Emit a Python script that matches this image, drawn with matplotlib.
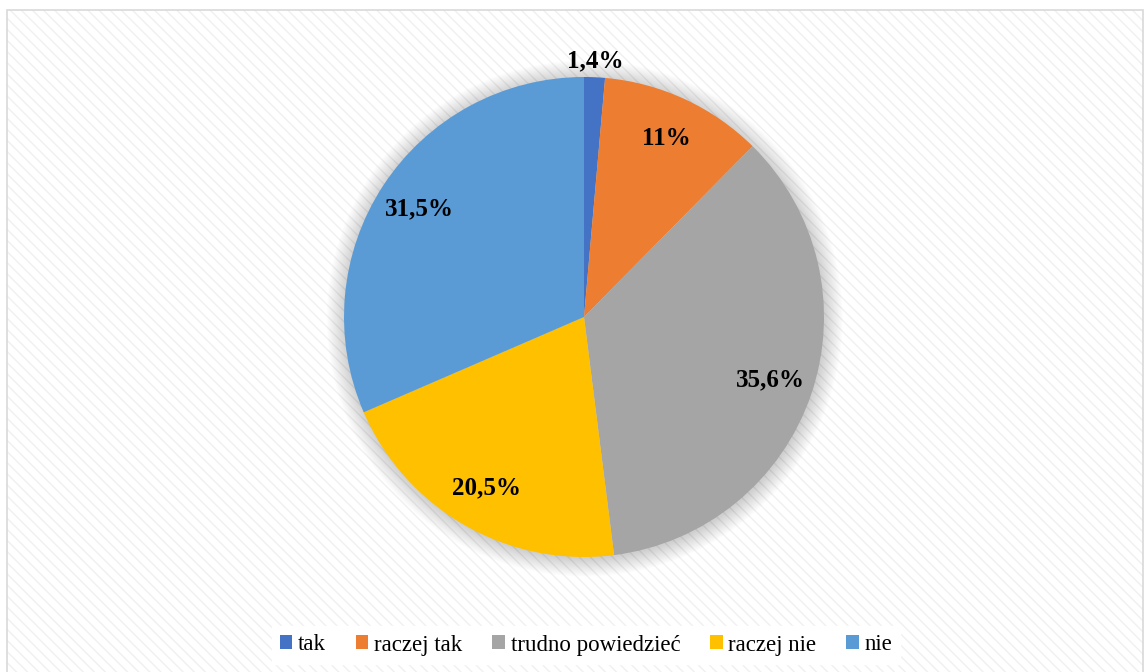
"""
Pie chart: tak / raczej tak / trudno powiedziec / raczej nie / nie
"""
import numpy as np
import matplotlib
matplotlib.use("Agg")
import matplotlib.pyplot as plt
from matplotlib.patches import Circle, Rectangle

# data
categories = ["tak", "raczej tak", "trudno powiedzieć", "raczej nie", "nie"]
shares = [1.4, 11, 35.6, 20.5, 31.5]
pct_labels = ["1,4%", "11%", "35,6%", "20,5%", "31,5%"]
colors = ["#4472C4", "#ED7D31", "#A5A5A5", "#FFC000", "#5B9BD5"]

plt.rcParams['font.family'] = ['Liberation Serif', 'DejaVu Serif']

W, H = 1145, 672
fig = plt.figure(figsize=(W / 100, H / 100), dpi=100)
fig.patch.set_facecolor("white")

# hatched background with a light frame
bg = Rectangle((7 / W, -0.01), (1143 - 7) / W, 1 - 10 / H + 0.01,
               transform=fig.transFigure, facecolor="white",
               edgecolor="#f0f0f0", hatch="\\\\\\", linewidth=0, zorder=-3)
fig.patches.append(bg)
frame = Rectangle((7 / W, -0.01), (1143 - 7) / W, 1 - 10 / H + 0.01,
                  transform=fig.transFigure, facecolor="none",
                  edgecolor="#d9d9d9", linewidth=1.2, zorder=-2)
fig.patches.append(frame)

cx, cy, r = 584, 317, 240
ax = fig.add_axes([(cx - r) / W, (H - cy - r) / H, 2 * r / W, 2 * r / H])
ax.set_xlim(-1, 1)
ax.set_ylim(-1, 1)
ax.axis("off")

# soft shadow around the pie
for k in range(24):
    ax.add_patch(Circle((0.003, -0.006), 1.0 + 0.0033 * k, facecolor="black",
                        alpha=0.009, edgecolor="none", clip_on=False, zorder=0))

wedges, _ = ax.pie(shares, colors=colors, startangle=90, counterclock=False,
                   radius=1.0, wedgeprops=dict(linewidth=0), frame=False)
for w in wedges:
    w.set_zorder(2)
ax.set_xlim(-1, 1)
ax.set_ylim(-1, 1)

for w, lab, val in zip(wedges, pct_labels, shares):
    mid = np.deg2rad((w.theta1 + w.theta2) / 2)
    dist = 1.07 if val < 5 else 0.82
    ax.text(dist * np.cos(mid), dist * np.sin(mid), lab, ha="center",
            va="center", fontsize=18, fontweight="bold", color="black", zorder=3)

leg = fig.legend(wedges, categories, loc="center", ncol=5,
                 bbox_to_anchor=(586 / W, 1 - 645 / H), frameon=True,
                 fontsize=16.5, handlelength=0.55, handleheight=0.55,
                 handletextpad=0.25, columnspacing=1.3, borderpad=0.35,
                 fancybox=False)
leg.get_frame().set_facecolor("white")
leg.get_frame().set_edgecolor("white")
leg.get_frame().set_alpha(1)

plt.savefig("out.png", dpi=100)
